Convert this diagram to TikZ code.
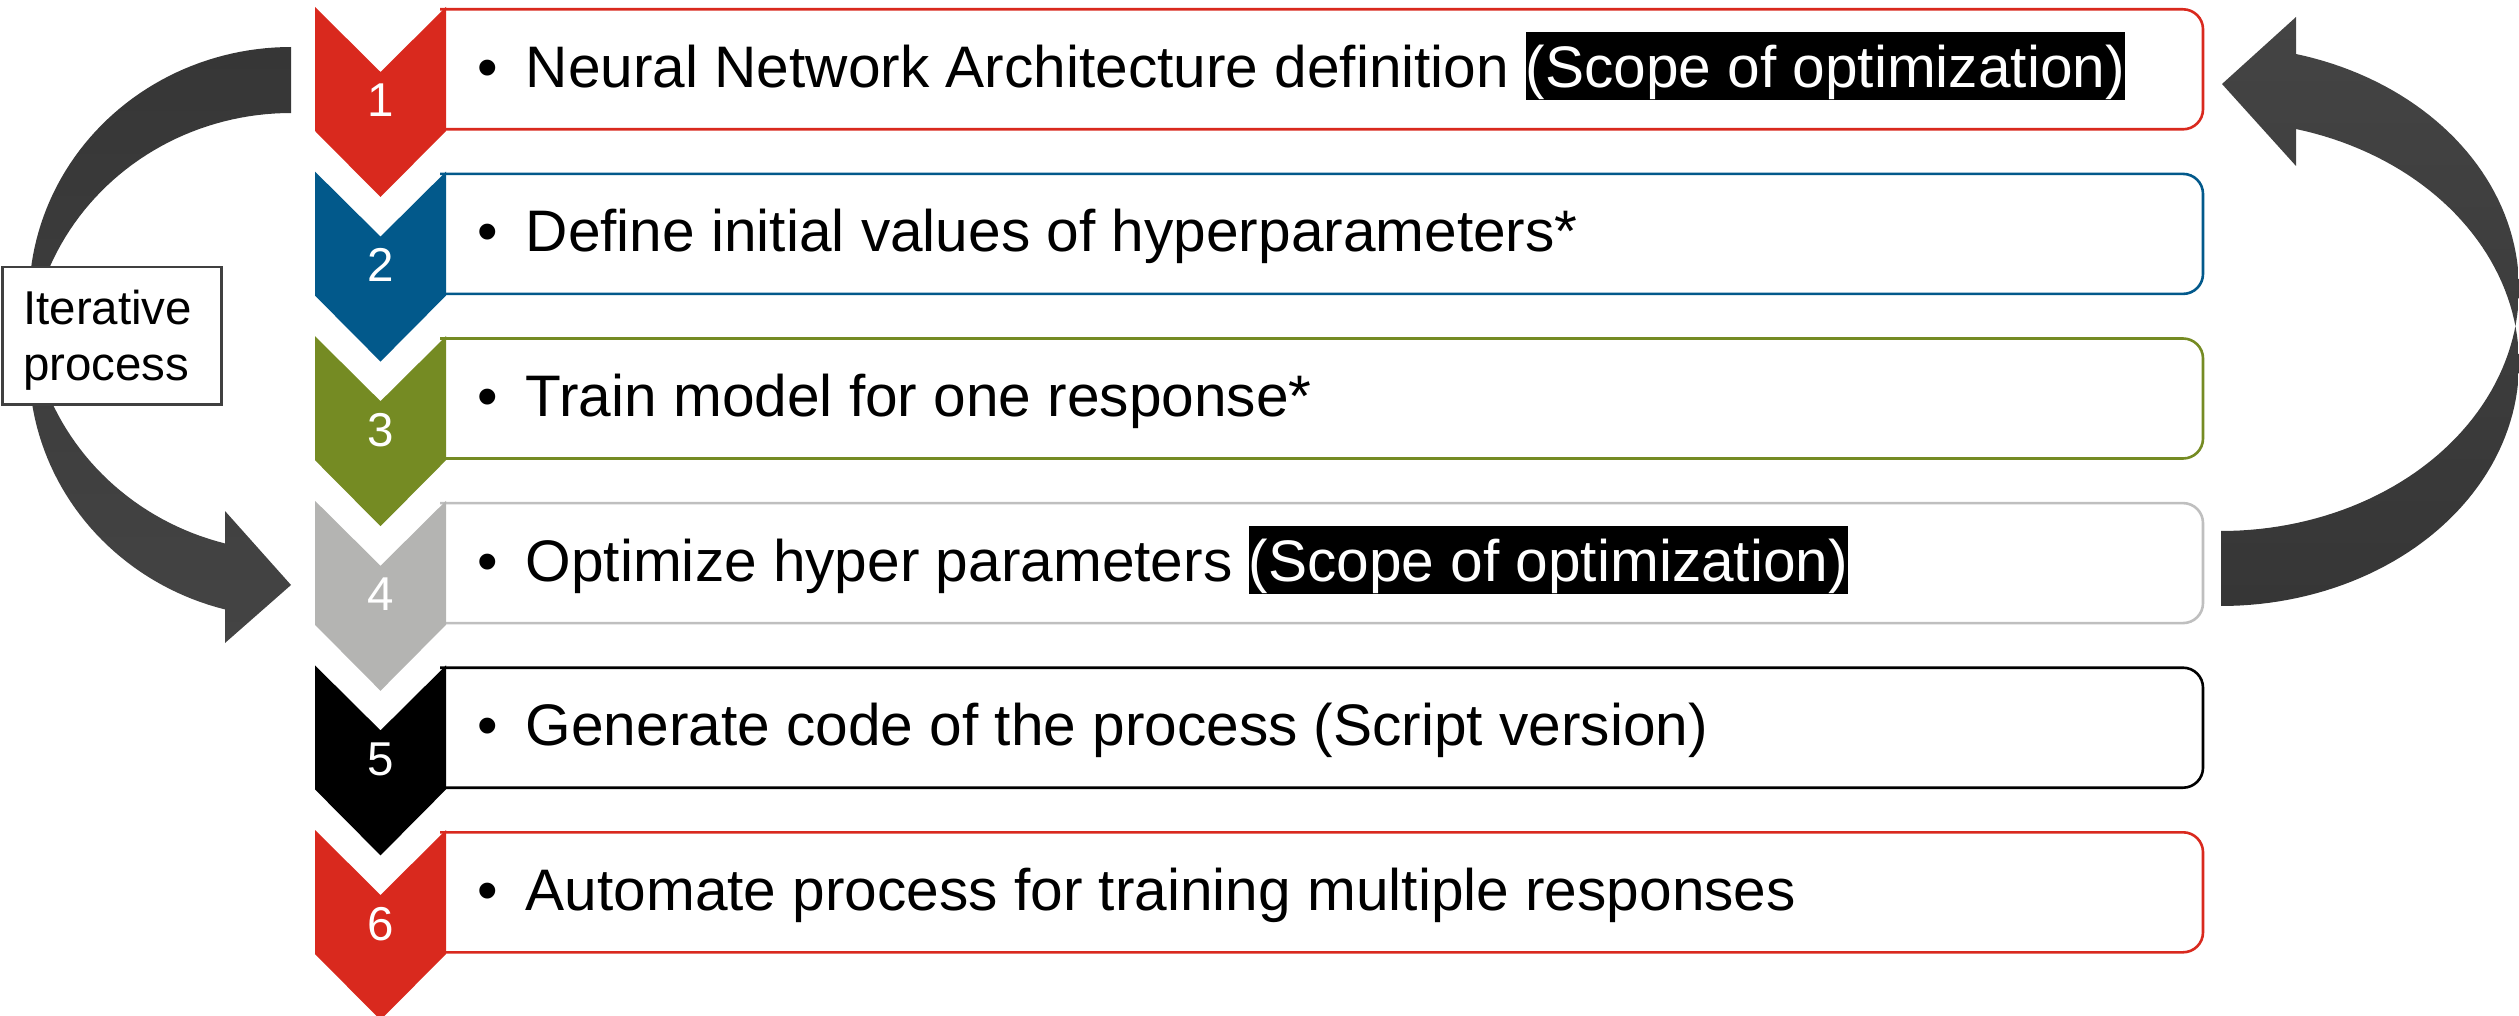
\documentclass[tikz,border=0pt]{standalone}
\usepackage{fontspec}
\setmainfont{Liberation Sans}

\definecolor{stepred}{HTML}{D9291E}
\definecolor{stepblue}{HTML}{02598B}
\definecolor{stepgreen}{HTML}{758B23}
\definecolor{stepgray}{HTML}{B4B4B2}
\definecolor{framegray}{HTML}{BFBFBF}
\definecolor{arrowdark}{HTML}{363636}
\definecolor{arrowlight}{HTML}{444444}
\definecolor{boxline}{HTML}{404040}

% white-on-black highlight for the optimisation scope
\newcommand{\scopehl}[1]{{\setlength{\fboxsep}{0pt}\colorbox{black}{\color{white}\rule[-12.5pt]{0pt}{67.5pt}#1}}}

\tikzset{
  stepframe/.style={draw=#1, line width=2.6pt, rounded corners=20pt},
  chevron/.style={fill=#1},
  numtext/.style={anchor=base, inner sep=0pt, text=white, font=\fontsize{47.5}{56}\selectfont},
  bullettext/.style={anchor=base, inner sep=0pt, font=\fontsize{58.6}{70}\selectfont},
  bodytext/.style={anchor=base west, inner sep=0pt, font=\fontsize{58.6}{70}\selectfont},
  iterbox/.style={draw=boxline, fill=white, line width=2.5pt, inner sep=0pt},
  itertext/.style={anchor=base west, inner sep=0pt, font=\fontsize{47.5}{56}\selectfont},
}

\begin{document}
\begin{tikzpicture}[x=1pt,y=-1pt]
\useasboundingbox (0,0) rectangle (2519,1016);

% return arrow on the right: from step 4 back up to step 1
\coordinate (rtail) at (2221,531);
\coordinate (rtip) at (2222,84);
\shade[top color=arrowlight, bottom color=arrowdark]
  (rtail) -- plot[domain=90:-75.42, samples=90, variable=\t]
      ({2221+298*cos(\t)},{288.6+242.4*sin(\t)})
  -- (2296,17) -- (rtip) -- (2296,166) -- (2296,129)
  -- plot[domain=-75.42:90, samples=90, variable=\t]
      ({2221+298*cos(\t)},{363.6+242.4*sin(\t)})
  -- cycle;

% loop arrow on the left: from step 1 down to step 4
\coordinate (ltail) at (291,47);
\coordinate (ltip) at (291,585);
\shade[top color=arrowdark, bottom color=arrowlight]
  (ltail) -- plot[domain=-90:-255.42, samples=90, variable=\t]
      ({291+262*cos(\t)},{299.3+252.3*sin(\t)})
  -- (225,511) -- (ltip) -- (225,643) -- (225,610)
  -- plot[domain=-255.42:-90, samples=90, variable=\t]
      ({291+262*cos(\t)},{365.3+252.3*sin(\t)})
  -- cycle;

% the six steps: frame, chevron, number, bullet and text
\foreach \k/\chcol/\frcol/\txt in {
  1/stepred/stepred/{Neural Network Architecture definition \scopehl{(Scope of optimization)}},
  2/stepblue/stepblue/{Define initial values of hyperparameters*},
  3/stepgreen/stepgreen/{Train model for one response*},
  4/stepgray/framegray/{Optimize hyper parameters \scopehl{(Scope of optimization)}},
  5/black/black/{Generate code of the process (Script version)},
  6/stepred/stepred/{Automate process for training multiple responses}}
{
  \pgfmathsetmacro{\T}{7+164.6*(\k-1)}
  \draw[stepframe=\frcol] (440,\T+2.3) -- (2203,\T+2.3) -- (2203,\T+122.3) -- (440,\T+122.3);
  \fill[chevron=\chcol] (315,\T) -- (380.5,\T+65) -- (446,\T) -- (446,\T+124)
     -- (380.5,\T+190) -- (315,\T+124) -- cycle;
  \node[numtext] (num\k) at (380.5,\T+110) {\k};
  \node[bullettext] (bul\k) at (488,\T+80.3) {•};
  \node[bodytext] (txt\k) at (525.5,\T+80.3) {\txt};
}

% label of the loop
\node[iterbox, minimum width=219pt, minimum height=137pt, anchor=north west] (iter) at (1.25,266) {};
\node[itertext] (iterA) at (23,324) {Iterative};
\node[itertext] (iterB) at (23,380) {process};
\end{tikzpicture}
\end{document}
